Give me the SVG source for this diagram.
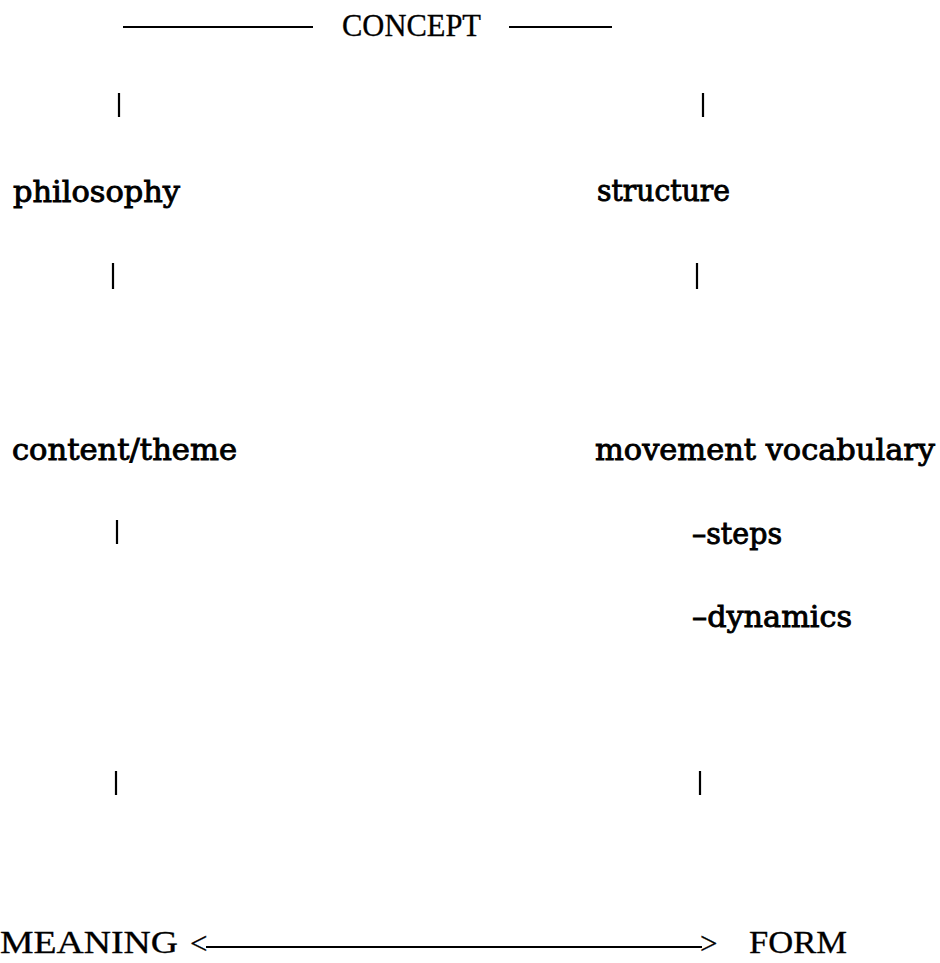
<svg xmlns="http://www.w3.org/2000/svg" width="940" height="963" viewBox="0 0 940 963">
<style>
  .cap { font-family: "Liberation Serif", "DejaVu Serif", serif; font-size: 31px; fill: #000; stroke: #000; stroke-width: 0.3px; }
  .lbl { font-family: "DejaVu Serif", "Liberation Serif", serif; font-size: 29px; fill: #000; stroke: #000; stroke-width: 0.9px; }
  .rule { stroke: #000; stroke-width: 2; fill: none; }
  .tick { stroke: #000; stroke-width: 2.2; fill: none; }
</style>
<rect width="940" height="963" fill="#fff"/>
<g id="connectors">
  <line class="rule" x1="123" y1="27" x2="313" y2="27"/>
  <line class="rule" x1="509" y1="27" x2="612" y2="27"/>
  <line class="tick" x1="119" y1="93" x2="119" y2="117"/>
  <line class="tick" x1="703" y1="93" x2="703" y2="117"/>
  <line class="tick" x1="113" y1="263" x2="113" y2="289"/>
  <line class="tick" x1="697" y1="263" x2="697" y2="289"/>
  <line class="tick" x1="117" y1="520" x2="117" y2="544"/>
  <line class="tick" x1="116" y1="771" x2="116" y2="795"/>
  <line class="tick" x1="700" y1="771" x2="700" y2="795"/>
  <line class="rule" x1="206" y1="947" x2="702" y2="947"/>
</g>
<g id="concept"><text class="cap" x="342" y="36" textLength="139" lengthAdjust="spacingAndGlyphs">CONCEPT</text></g>
<g id="philosophy"><text class="lbl" x="13" y="202" textLength="167" lengthAdjust="spacingAndGlyphs">philosophy</text></g>
<g id="structure"><text class="lbl" x="597" y="201" textLength="133" lengthAdjust="spacingAndGlyphs">structure</text></g>
<g id="content-theme"><text class="lbl" x="12" y="460" textLength="225" lengthAdjust="spacingAndGlyphs">content/theme</text></g>
<g id="movement-vocabulary"><text class="lbl" x="595" y="460" textLength="340" lengthAdjust="spacingAndGlyphs">movement vocabulary</text></g>
<g id="steps"><text class="lbl" x="692" y="544" textLength="90" lengthAdjust="spacingAndGlyphs">–steps</text></g>
<g id="dynamics"><text class="lbl" x="692" y="627" textLength="160" lengthAdjust="spacingAndGlyphs">–dynamics</text></g>
<g id="meaning"><text class="cap" x="0" y="953" textLength="178" lengthAdjust="spacingAndGlyphs">MEANING</text><text class="cap" x="190" y="954">&lt;</text></g>
<g id="form"><text class="cap" x="700" y="954">&gt;</text><text class="cap" x="749" y="953" textLength="98" lengthAdjust="spacingAndGlyphs">FORM</text></g>
</svg>
